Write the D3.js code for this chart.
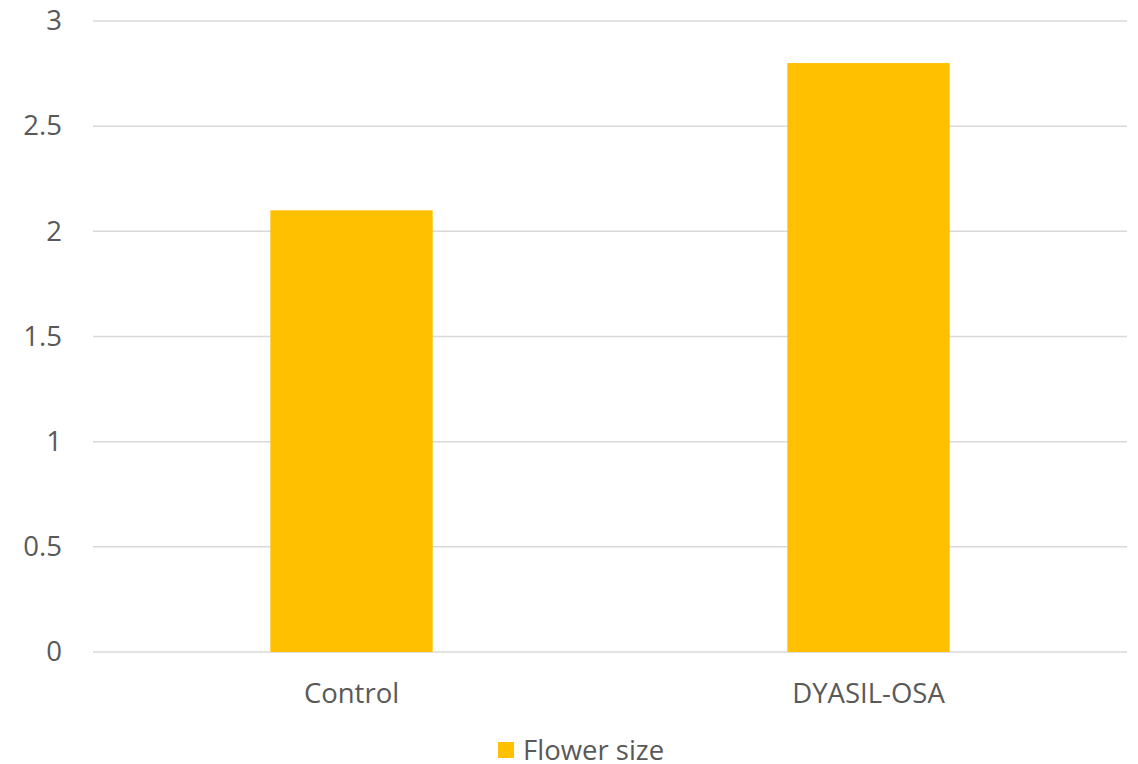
<!DOCTYPE html>
<html>
<head>
<meta charset="utf-8">
<script src="https://cdn.jsdelivr.net/npm/d3@7"></script>
<style>
  body { margin: 0; background: #fff; }
  text { font-family: "Open Sans", sans-serif; fill: #595959; }
</style>
</head>
<body>
<div id="chart"></div>
<script>
// chart data
var categories = ["Control", "DYASIL-OSA"];
var flowerSize = [2.1, 2.8];
var yTicks = [0, 0.5, 1, 1.5, 2, 2.5, 3];
var seriesName = "Flower size";

var svgWidth = 1138;
var svgHeight = 764;
var margin = { top: 21, right: 11, bottom: 112, left: 93 };
var width = svgWidth - margin.left - margin.right;
var height = svgHeight - margin.top - margin.bottom;
var fontSize = "27.5px";

var svg = d3.select("#chart")
  .append("svg")
  .attr("width", svgWidth)
  .attr("height", svgHeight);

var chartGroup = svg.append("g")
  .attr("transform", `translate(${margin.left}, ${margin.top})`);

var xScale = d3.scaleBand()
  .domain(categories)
  .range([0, width])
  .padding(0);

var yScale = d3.scaleLinear()
  .domain([0, 3])
  .range([height, 0]);

// gridlines
chartGroup.append("g")
  .selectAll("line")
  .data(yTicks)
  .enter()
  .append("line")
  .attr("x1", 0)
  .attr("x2", width)
  .attr("y1", d => yScale(d))
  .attr("y2", d => yScale(d))
  .attr("stroke", "#d9d9d9")
  .attr("stroke-width", 1.5);

// y axis labels
var leftAxis = d3.axisLeft(yScale).tickValues(yTicks).tickSize(0).tickPadding(31)
  .tickFormat(d3.format("~g"));
var yAxis = chartGroup.append("g").call(leftAxis);
yAxis.select(".domain").remove();
yAxis.selectAll("text")
  .style("font-family", "'Open Sans', sans-serif")
  .attr("font-size", fontSize)
  .attr("fill", "#595959");

// bars
var barFrac = 0.314;
chartGroup.selectAll("rect.bar")
  .data(flowerSize)
  .enter()
  .append("rect")
  .attr("class", "bar")
  .attr("x", (d, i) => xScale(categories[i]) + xScale.bandwidth() * (1 - barFrac) / 2)
  .attr("width", xScale.bandwidth() * barFrac)
  .attr("y", d => yScale(d))
  .attr("height", d => height - yScale(d))
  .attr("fill", "#ffc000");

// x axis labels
var bottomAxis = d3.axisBottom(xScale).tickSize(0).tickPadding(31);
var xAxis = chartGroup.append("g")
  .attr("transform", `translate(0, ${height})`)
  .call(bottomAxis);
xAxis.select(".domain").remove();
xAxis.selectAll("text")
  .style("font-family", "'Open Sans', sans-serif")
  .attr("font-size", fontSize)
  .attr("fill", "#595959");

// legend
var legend = svg.append("g")
  .attr("transform", `translate(498, 742)`);
legend.append("rect")
  .attr("width", 16)
  .attr("height", 16)
  .attr("fill", "#ffc000");
legend.append("text")
  .attr("x", 25)
  .attr("y", 8)
  .attr("dy", "0.35em")
  .attr("font-size", fontSize)
  .text(seriesName);
</script>
</body>
</html>
